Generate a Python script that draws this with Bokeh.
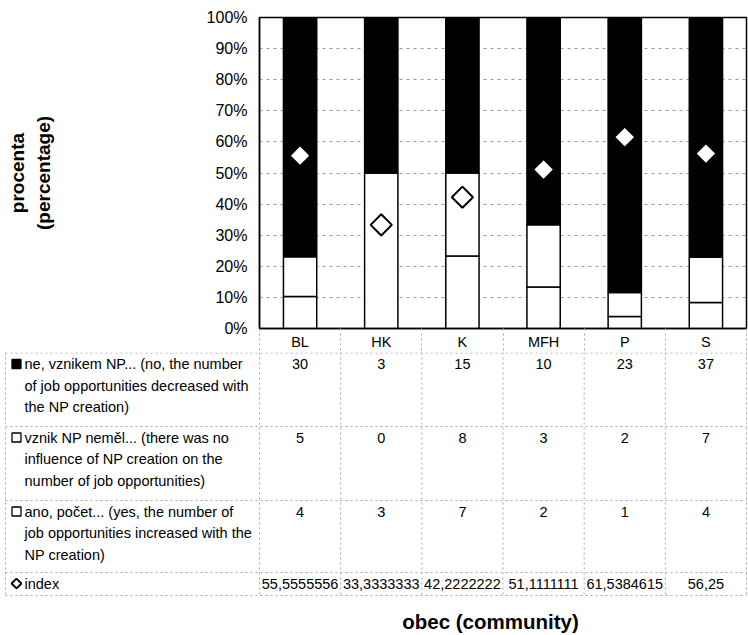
import math
from bokeh.plotting import figure
from bokeh.models import (Range1d, FactorRange, FixedTicker, NumeralTickFormatter, ColumnDataSource,
                          LinearAxis, CustomJSTickFormatter)
from bokeh.core.properties import value
from bokeh.embed import file_html
from bokeh.resources import INLINE

# ---------------- data ----------------
categories = ["BL", "HK", "K", "MFH", "P", "S"]
ne_counts = [30, 3, 15, 10, 23, 37]        # no, decreased (black)
nemel_counts = [5, 0, 8, 3, 2, 7]          # no influence (white, middle)
ano_counts = [4, 3, 7, 2, 1, 4]            # yes, increased (white, bottom)
index_values = [55.5555556, 33.3333333, 42.2222222, 51.1111111, 61.5384615, 56.25]
y_ticks = [0.0, 0.1, 0.2, 0.3, 0.4, 0.5, 0.6, 0.7, 0.8, 0.9, 1.0]
series_labels = [
    ["ne, vznikem NP... (no, the number", "of job opportunities decreased with", "the NP creation)"],
    ["vznik NP neměl... (there was no", "influence of NP creation on the", "number of job opportunities)"],
    ["ano, počet... (yes, the number of", "job opportunities increased with the", "NP creation)"],
    ["index"],
]
x_title = "obec (community)"
y_title = "procenta\n(percentage)"

FONT = "Liberation Sans"
GRID = "#a8a8a8"

totals = [a + b + c for a, b, c in zip(ano_counts, nemel_counts, ne_counts)]
src = ColumnDataSource(dict(
    cat=categories,
    ano=[a / t for a, t in zip(ano_counts, totals)],
    nemel=[b / t for b, t in zip(nemel_counts, totals)],
    ne=[c / t for c, t in zip(ne_counts, totals)],
    idx=[v / 100.0 for v in index_values],
))

# ---------------- chart ----------------
W = 748
n = len(categories)
FL, FR = 259, 2   # frame left border / right border
p = figure(x_range=FactorRange(*categories), y_range=Range1d(0, 1),
           width=W, height=352, output_backend="svg", toolbar_location=None,
           x_axis_location=None,
           min_border_left=FL, min_border_right=FR, min_border_top=17, min_border_bottom=22)
p.background_fill_color = "white"
p.border_fill_color = "white"
p.outline_line_color = "black"
p.outline_line_width = 1.5

p.ygrid.ticker = FixedTicker(ticks=y_ticks)
p.ygrid.grid_line_color = "#9a9a9a"
p.ygrid.grid_line_dash = "3 4"
p.ygrid.grid_line_width = 1
p.xgrid.visible = False

p.vbar_stack(["ano", "nemel", "ne"], x="cat", width=0.41, source=src,
             fill_color=["white", "white", "black"], line_color="black", line_width=1.5)
p.scatter(x="cat", y="idx", source=src, marker="square", angle=math.pi / 4, size=15,
          fill_color="white", line_color="black", line_width=2)

# category header row: labels at centres, dashed separators at boundaries
xax = LinearAxis(
    ticker=FixedTicker(ticks=[i + 0.5 for i in range(n)], minor_ticks=list(range(n + 1))),
    formatter=CustomJSTickFormatter(args=dict(cats=categories),
                                    code="const i = Math.round(tick - 0.5); return cats[i] || '';"),
)
xax.axis_line_color = "black"
xax.axis_line_width = 1.5
xax.major_tick_out = 0
xax.major_tick_in = 0
xax.minor_tick_in = 0
xax.minor_tick_out = 22
xax.minor_tick_line_color = GRID
xax.minor_tick_line_dash = "2 3"
xax.minor_tick_line_width = 1
xax.major_label_standoff = -17
xax.major_label_text_font = FONT
xax.major_label_text_font_size = "14.5px"
xax.major_label_text_color = "black"
p.add_layout(xax, "below")

yax = p.yaxis[0]
yax.ticker = FixedTicker(ticks=y_ticks)
yax.formatter = NumeralTickFormatter(format="0%")
yax.major_tick_out = 0
yax.major_tick_in = 0
yax.minor_tick_out = 0
yax.minor_tick_in = 0
yax.axis_line_color = "black"
yax.axis_line_width = 1.5
yax.major_label_standoff = 12
yax.major_label_text_font = FONT
yax.major_label_text_font_size = "16px"
yax.major_label_text_color = "black"
yax.axis_label = y_title
yax.axis_label_text_font = FONT
yax.axis_label_text_font_style = "bold"
yax.axis_label_text_font_size = "19px"
yax.axis_label_text_color = "black"
yax.axis_label_standoff = 150

# ---------------- data table ----------------
H2 = 283
t = figure(x_range=Range1d(0, W), y_range=Range1d(H2, 0), width=W, height=H2,
           output_backend="svg", toolbar_location=None, min_border=0,
           x_axis_location=None, y_axis_location=None)
t.grid.visible = False
t.outline_line_color = None
t.background_fill_color = "white"
t.border_fill_color = "white"

x0 = float(FL)
colw = (W - FL - FR) / n
col_centers = [x0 + (i + 0.5) * colw for i in range(n)]
col_edges = [x0 + k * colw for k in range(n + 1)]

line_h = 21.5
row_tops = [0.5, 74, 148, 220]
table_bottom = 243
first_line_offset = 11
left_edge = 5

grid_kw = dict(line_color=GRID, line_dash="2 3", line_width=1)
hlines = row_tops + [table_bottom]
t.segment(x0=[left_edge] * len(hlines), y0=hlines, x1=[col_edges[-1]] * len(hlines), y1=hlines, **grid_kw)
t.segment(x0=col_edges, y0=[0] * len(col_edges), x1=col_edges,
          y1=[table_bottom] * len(col_edges), **grid_kw)
t.segment(x0=[left_edge], y0=[0], x1=[left_edge], y1=[table_bottom], **grid_kw)

text_kw = dict(text_font=value(FONT), text_font_size="14.5px", text_color="black",
               text_baseline="middle")

rows_values = [
    [str(v) for v in ne_counts],
    [str(v) for v in nemel_counts],
    [str(v) for v in ano_counts],
    [f"{v:.10g}".replace(".", ",") for v in index_values],
]
for r, vals in enumerate(rows_values):
    yy = row_tops[r] + first_line_offset
    t.text(x=col_centers, y=[yy] * len(vals), text=vals, text_align="center", **text_kw)

for r, lines in enumerate(series_labels):
    ys = [row_tops[r] + first_line_offset + i * line_h for i in range(len(lines))]
    t.text(x=[24] * len(lines), y=ys, text=lines, text_align="left", **text_kw)

mk_y = [row_tops[r] + first_line_offset for r in range(3)]
t.scatter(x=[16, 16, 16], y=mk_y, marker="square", size=9,
          fill_color=["black", "white", "white"], line_color="black", line_width=1.3)
t.scatter(x=[16], y=[row_tops[3] + first_line_offset], marker="square", angle=math.pi / 4,
          size=7, fill_color="white", line_color="black", line_width=1.8)

t.text(x=[490], y=[269], text=[x_title], text_align="center", text_baseline="middle",
       text_font=value(FONT), text_font_size="20.5px", text_font_style="bold", text_color="black")

open("out.html", "w").write(file_html([p, t], INLINE))
